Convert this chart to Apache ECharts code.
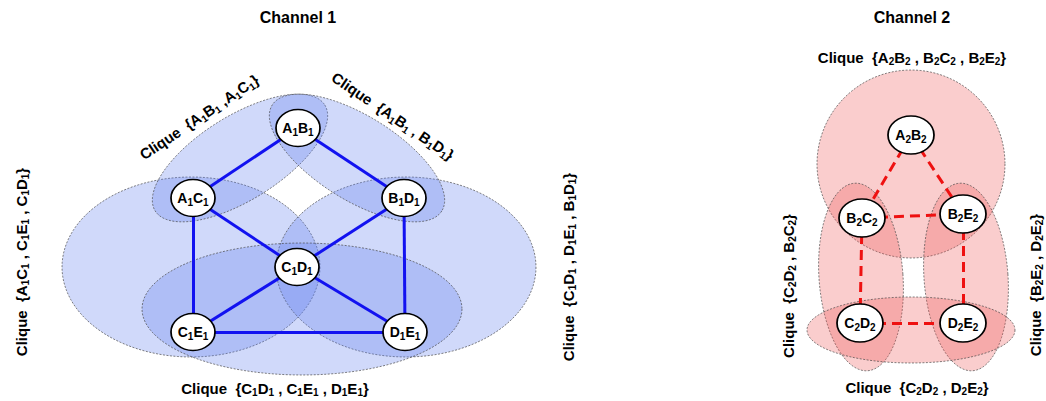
<!DOCTYPE html>
<html><head><meta charset="utf-8">
<script src="https://cdn.jsdelivr.net/npm/echarts@6/dist/echarts.min.js"></script>
<style>html,body{margin:0;padding:0;background:#fff}#c{width:1046px;height:401px}</style>
</head><body><div id="c"></div>
<script>
// ---------- Channel 1 ----------
const ch1Nodes = ['A1B1', 'A1C1', 'B1D1', 'C1D1', 'C1E1', 'D1E1'];
const ch1NodeX = [298, 193, 404, 297, 193, 405];
const ch1NodeY = [128, 198, 198, 267, 332, 332];
const ch1Edges = [['A1B1','A1C1'], ['A1B1','B1D1'], ['A1C1','C1D1'], ['A1C1','C1E1'], ['B1D1','C1D1'],
                  ['B1D1','D1E1'], ['C1D1','C1E1'], ['C1D1','D1E1'], ['C1E1','D1E1']];
// cliques: centre x, centre y, semi-axis x, semi-axis y, tilt (deg)
const ch1CliqueNames = ['A1C1,C1E1,C1D1', 'C1D1,D1E1,B1D1', 'C1D1,C1E1,D1E1', 'A1B1,A1C1', 'A1B1,B1D1'];
const ch1CliqueCx = [191, 406, 302, 240, 357];
const ch1CliqueCy = [267, 267, 309, 158, 158];
const ch1CliqueRx = [129, 130, 160, 100, 100];
const ch1CliqueRy = [90, 90, 66, 42, 42];
const ch1CliqueTilt = [0, 0, 0, 32, -32];

// ---------- Channel 2 ----------
const ch2Nodes = ['A2B2', 'B2C2', 'B2E2', 'C2D2', 'D2E2'];
const ch2NodeX = [911, 862, 963, 860, 963];
const ch2NodeY = [135, 218, 214, 323, 323];
const ch2Edges = [['A2B2','B2C2'], ['A2B2','B2E2'], ['B2C2','B2E2'], ['B2C2','C2D2'], ['B2E2','D2E2'], ['C2D2','D2E2']];
const ch2CliqueNames = ['A2B2,B2C2,B2E2', 'C2D2,B2C2', 'B2E2,D2E2', 'C2D2,D2E2'];
const ch2CliqueCx = [911, 861, 966, 911];
const ch2CliqueCy = [164, 277, 277, 330];
const ch2CliqueRx = [94, 42, 42, 104];
const ch2CliqueRy = [94, 94, 94, 33];
const ch2CliqueTilt = [0, 4, 4, 0];

// ---------- Texts ----------
const titleTexts = ['Channel 1', 'Channel 2'];
const titleX = [298, 912];
const titleY = [17, 17];
const labelTexts = [
  'Clique  {A1B1 ,A1C1}',
  'Clique  {A1B1 , B1D1}',
  'Clique  {A1C1 , C1E1 , C1D1}',
  'Clique  {C1D1 , D1E1 , B1D1}',
  'Clique  {C1D1 , C1E1 , D1E1}',
  'Clique  {A2B2 , B2C2 , B2E2}',
  'Clique  {C2D2 , B2C2}',
  'Clique  {B2E2 , D2E2}',
  'Clique  {C2D2 , D2E2}'
];
const labelX = [199, 393, 21, 568, 275, 912, 788, 1035, 917];
const labelY = [117, 116, 262, 267, 388, 57, 286, 285, 387];
const labelRot = [34, -34, 90, 90, 0, 0, 90, 90, 0];

const FONT = '"Liberation Sans", Arial, sans-serif';
function sub(s) { return s.replace(/([A-Z])(\d)/g, '$1{s|$2}'); }

function cliqueRows(cx, cy, rx, ry, tilt) {
  return cx.map((v, i) => [v, cy[i], rx[i], ry[i], tilt[i]]);
}
function ellipseRenderer(fill) {
  return function (params, api) {
    const cx = api.value(0), cy = api.value(1), rx = api.value(2), ry = api.value(3);
    const r = api.value(4) * Math.PI / 180;
    const pts = [];
    const N = 120;
    for (let i = 0; i < N; i++) {
      const t = i / N * Math.PI * 2;
      const a = rx * Math.cos(t), b = ry * Math.sin(t);
      pts.push(api.coord([cx + a * Math.cos(r) + b * Math.sin(r), cy - a * Math.sin(r) + b * Math.cos(r)]));
    }
    return {
      type: 'polygon', shape: { points: pts },
      style: { fill: fill, stroke: 'rgba(70,70,70,0.85)', lineWidth: 0.8, lineDash: [2, 1.5] }
    };
  };
}

const ELLIPSE = 'path://M0,50 A50,50 0 1,1 100,50 A50,50 0 1,1 0,50 Z';
function graphSeries(nodes, nx, ny, edges, size, lineStyle) {
  return {
    type: 'graph', coordinateSystem: 'cartesian2d', layout: 'none', z: 5,
    symbol: ELLIPSE, symbolSize: size, silent: true,
    data: nodes.map((n, i) => ({ name: n, value: [nx[i], ny[i]] })),
    links: edges.map(e => ({ source: e[0], target: e[1] })),
    itemStyle: { color: '#fff', borderColor: '#000', borderWidth: 1.6, opacity: 1 },
    lineStyle: lineStyle,
    label: {
      show: true, position: 'inside', formatter: p => sub(p.name),
      color: '#000', fontSize: 14, fontWeight: 'bold', fontFamily: FONT, lineHeight: 18,
      rich: { s: { fontSize: 10, fontWeight: 'bold', fontFamily: FONT, color: '#000', verticalAlign: 'bottom', lineHeight: 10 } }
    },
    emphasis: { disabled: true }
  };
}

const chart = echarts.init(document.getElementById('c'), null, { renderer: 'svg' });
chart.setOption({
  animation: false,
  backgroundColor: '#fff',
  grid: { left: 0, right: 0, top: 0, bottom: 0 },
  xAxis: { type: 'value', min: 0, max: 1046, show: false },
  yAxis: { type: 'value', min: 0, max: 401, inverse: true, show: false },
  graphic: [].concat(
    titleTexts.map((t, i) => ({
      type: 'text', x: titleX[i], y: titleY[i], silent: true,
      style: { text: t, fill: '#000', fontSize: 16, fontWeight: 'bold', fontFamily: FONT, align: 'center', verticalAlign: 'middle' }
    })),
    labelTexts.map((t, i) => ({
      type: 'text', x: labelX[i], y: labelY[i], rotation: labelRot[i] * Math.PI / 180, silent: true,
      style: {
        text: sub(t), fill: '#000', fontSize: 15, fontWeight: 'bold', fontFamily: FONT, lineHeight: 19,
        align: 'center', verticalAlign: 'middle',
        rich: { s: { fontSize: 10, fontWeight: 'bold', fontFamily: FONT, fill: '#000', verticalAlign: 'bottom', lineHeight: 10 } }
      }
    }))
  ),
  series: [
    { type: 'custom', name: 'Channel 1 cliques', renderItem: ellipseRenderer('rgba(100,130,240,0.3)'),
      data: cliqueRows(ch1CliqueCx, ch1CliqueCy, ch1CliqueRx, ch1CliqueRy, ch1CliqueTilt),
      encode: { x: 0, y: 1 }, silent: true, z: 1 },
    { type: 'custom', name: 'Channel 2 cliques', renderItem: ellipseRenderer('rgba(240,90,90,0.3)'),
      data: cliqueRows(ch2CliqueCx, ch2CliqueCy, ch2CliqueRx, ch2CliqueRy, ch2CliqueTilt),
      encode: { x: 0, y: 1 }, silent: true, z: 1 },
    graphSeries(ch1Nodes, ch1NodeX, ch1NodeY, ch1Edges, [44, 37],
      { color: '#1212f0', width: 3, opacity: 1, curveness: 0 }),
    graphSeries(ch2Nodes, ch2NodeX, ch2NodeY, ch2Edges, [46, 38],
      { color: '#ee1111', width: 3, opacity: 1, curveness: 0, type: [10, 6] })
  ]
});
</script></body></html>
